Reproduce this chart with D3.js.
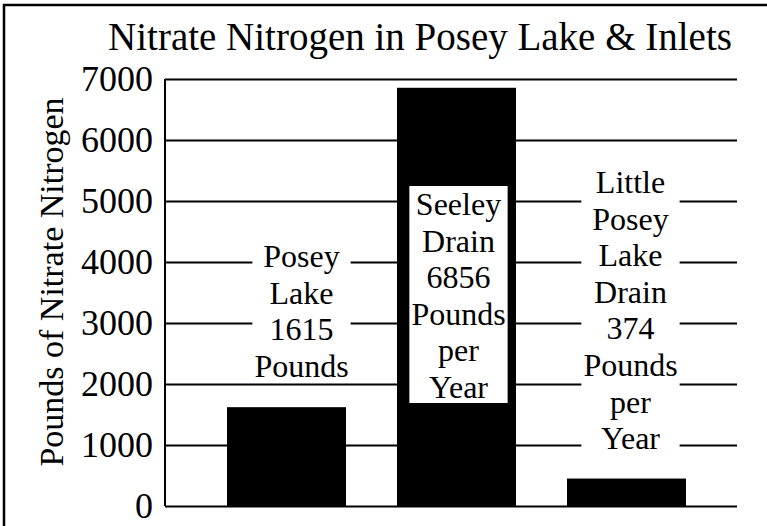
<!DOCTYPE html>
<html>
<head>
  <meta charset="utf-8">
  <script src="https://d3js.org/d3.v7.min.js"></script>
  <style>
    body { margin: 0; background: #fff; }
  </style>
</head>
<body>
<div id="chart"></div>
<script>
// data
var categories = ["Posey Lake", "Seeley Drain", "Little Posey Lake Drain"];
var values = [1620, 6856, 450];
var labelLines = [
  ["Posey", "Lake", "1615", "Pounds"],
  ["Seeley", "Drain", "6856", "Pounds", "per", "Year"],
  ["Little", "Posey", "Lake", "Drain", "374", "Pounds", "per", "Year"]
];
var yTicks = [0, 1000, 2000, 3000, 4000, 5000, 6000, 7000];

var W = 767, H = 526;
var plot = {left: 165, right: 737, top: 79, bottom: 506};
var serif = "'Liberation Serif', 'Times New Roman', serif";

var svg = d3.select("#chart").append("svg")
  .attr("width", W).attr("height", H);

// outer frame (only top and left edges fall inside the picture)
svg.append("rect")
  .attr("x", 4).attr("y", 5)
  .attr("width", W + 20).attr("height", H + 20)
  .attr("fill", "none").attr("stroke", "#000").attr("stroke-width", 2.5);

var y = d3.scaleLinear().domain([0, 7000]).range([plot.bottom, plot.top]);
var x = d3.scaleBand().domain(categories)
  .range([plot.left + 11, plot.right])
  .paddingInner(0.3).paddingOuter(0.3);

// gridlines + tick labels
var yAxis = svg.append("g")
  .attr("transform", "translate(" + plot.left + ",0)")
  .call(d3.axisLeft(y).tickValues(yTicks).tickFormat(d3.format("d"))
    .tickSize(-(plot.right - plot.left)).tickPadding(12));
yAxis.select(".domain").remove();
yAxis.selectAll(".tick line").attr("stroke", "#000").attr("stroke-width", 2);
yAxis.selectAll(".tick text")
  .style("font-family", serif).style("font-size", "36px").attr("fill", "#000");

// y axis line
svg.append("line")
  .attr("x1", plot.left).attr("x2", plot.left)
  .attr("y1", plot.top).attr("y2", plot.bottom)
  .attr("stroke", "#000").attr("stroke-width", 2);

// bars
svg.selectAll(".bar")
  .data(values)
  .enter().append("rect")
  .attr("class", "bar")
  .attr("x", function(d, i) { return x(categories[i]); })
  .attr("y", function(d) { return y(d); })
  .attr("width", x.bandwidth())
  .attr("height", function(d) { return y(0) - y(d); })
  .attr("fill", "#000");

// labels with white boxes
var lineH = 36.6;
var labelPos = [
  {dx: 15, base: 267},
  {dx: 2, base: 215},
  {dx: 4, base: 193}
];
labelLines.forEach(function(lines, i) {
  var cx = x(categories[i]) + x.bandwidth() / 2 + labelPos[i].dx;
  var g = svg.append("g");
  var box = g.append("rect").attr("fill", "#fff");
  var t = g.append("text")
    .attr("text-anchor", "middle")
    .style("font-family", serif)
    .style("font-size", "32px");
  lines.forEach(function(s, j) {
    t.append("tspan")
      .attr("x", cx)
      .attr("y", labelPos[i].base + j * lineH)
      .text(s);
  });
  var bb = t.node().getBBox();
  box.attr("x", bb.x - 2).attr("y", bb.y)
    .attr("width", bb.width + 4).attr("height", bb.height - 2);
});

// title
svg.append("text")
  .attr("x", 420).attr("y", 50)
  .attr("text-anchor", "middle")
  .style("font-family", serif)
  .style("font-size", "39px")
  .text("Nitrate Nitrogen in Posey Lake & Inlets");

// y axis title
svg.append("text")
  .attr("transform", "translate(63," + 282 + ") rotate(-90)")
  .attr("text-anchor", "middle")
  .style("font-family", serif)
  .style("font-size", "34px")
  .text("Pounds of Nitrate Nitrogen");
</script>
</body>
</html>
